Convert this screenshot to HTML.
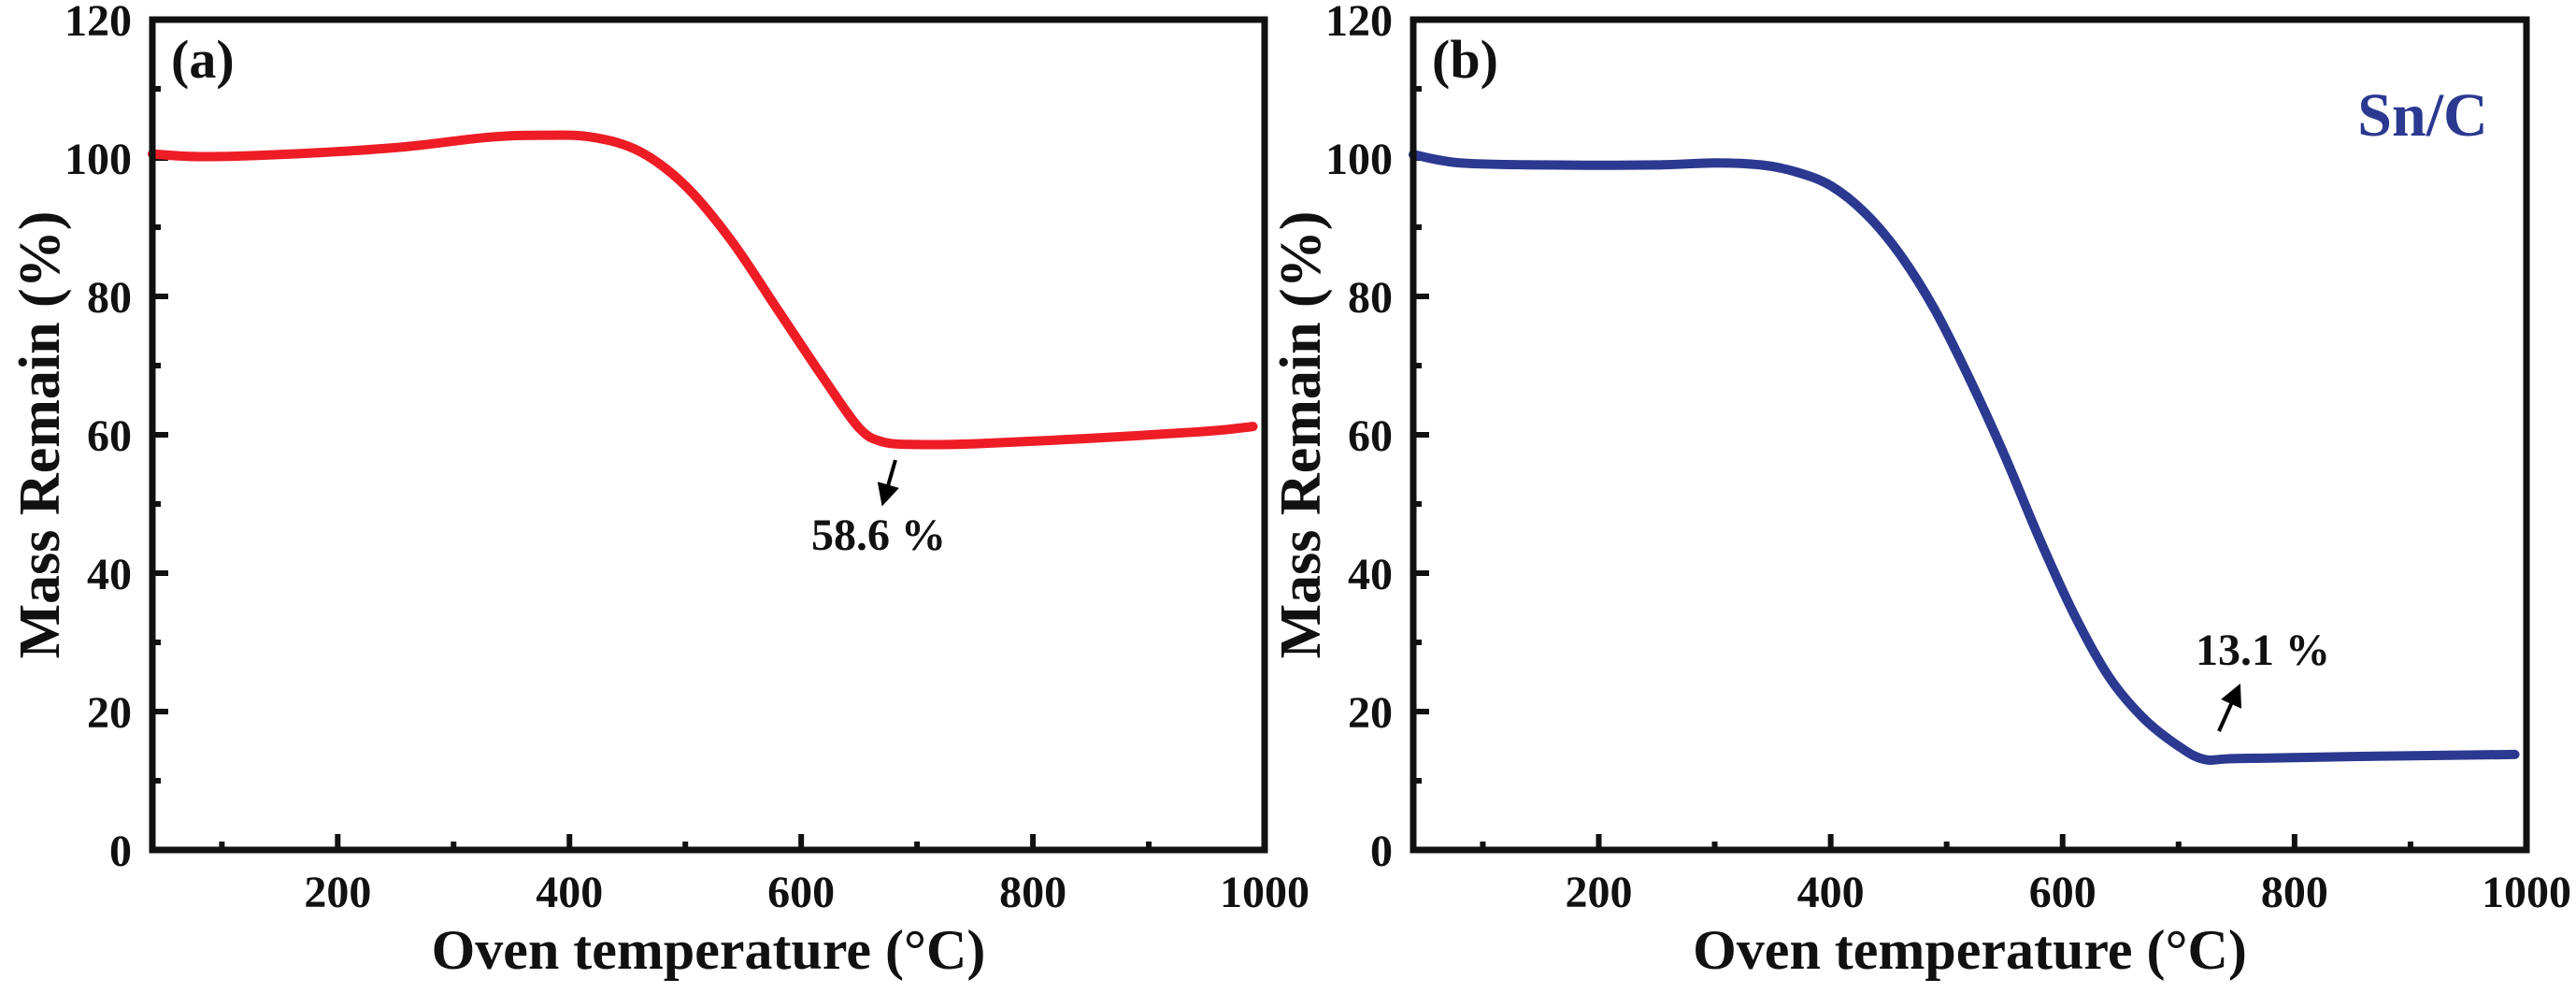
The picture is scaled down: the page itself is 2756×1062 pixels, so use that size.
<!DOCTYPE html>
<html><head><meta charset="utf-8"><style>
html,body{margin:0;padding:0;background:#fff;}
svg{display:block;font-family:"Liberation Serif",serif;font-weight:bold;}
</style></head><body>
<svg id="fig" width="2756" height="1062" viewBox="0 0 2756 1062">
<defs><marker id="ah" markerWidth="6" markerHeight="6" refX="3" refY="3" orient="auto" markerUnits="strokeWidth"><path d="M0,0 L6,3 L0,6 z" fill="#000"/></marker></defs>
</svg>
<script>
const xTicksMajor=[200,400,600,800,1000];
const yTicksMajor=[0,20,40,60,80,100,120];
const tempA=[40,80,150,250,330,380,420,460,500,540,580,620,650,670,700,750,850,950,990];
const massA=[100.6,100.2,100.5,101.5,103,103.3,103,101,96,88,78,68,61,59,58.6,58.7,59.5,60.5,61.2];
const tempB=[40,80,150,250,300,340,370,400,430,460,490,520,550,580,610,640,670,700,722,750,850,990];
const massB=[100.5,99.3,99,99,99.3,99,98,96,92,86,78,68,57,45,34,25,19,15,13.1,13.2,13.5,13.8];
const NS='http://www.w3.org/2000/svg';
const svg=document.getElementById('fig');
function mk(tag,attrs,parent){const e=document.createElementNS(NS,tag);for(const k in attrs)e.setAttribute(k,attrs[k]);(parent||svg).appendChild(e);return e;}
function smooth(pts){
  let d='M'+pts[0][0].toFixed(1)+','+pts[0][1].toFixed(1);
  for(let i=0;i<pts.length-1;i++){
    const p0=pts[Math.max(0,i-1)],p1=pts[i],p2=pts[i+1],p3=pts[Math.min(pts.length-1,i+2)];
    const c1=[p1[0]+(p2[0]-p0[0])/6,p1[1]+(p2[1]-p0[1])/6];
    const c2=[p2[0]-(p3[0]-p1[0])/6,p2[1]-(p3[1]-p1[1])/6];
    d+=' C'+c1[0].toFixed(1)+','+c1[1].toFixed(1)+' '+c2[0].toFixed(1)+','+c2[1].toFixed(1)+' '+p2[0].toFixed(1)+','+p2[1].toFixed(1);
  }
  return d;
}
function panel(L,R,T,B,temps,mass,color,tag,key){
  const g=mk('g',{});
  
  
  const xs=v=>L+(v-40)/(1000-40)*(R-L);
  const ys=v=>B-v/120*(B-T);
  for(let v=100;v<1000;v+=200){const t=mk('line',{x1:xs(v),x2:xs(v),y1:B,y2:B-9,stroke:'#111','stroke-width':6},g);}
  for(let v=10;v<120;v+=20){const t=mk('line',{x1:L,x2:L+9,y1:ys(v),y2:ys(v),stroke:'#111','stroke-width':6},g);}
  xTicksMajor.forEach(v=>{
    const t=mk('line',{x1:xs(v),x2:xs(v),y1:B,y2:B-17,stroke:'#111','stroke-width':6},g);
    
    
    const tx=mk('text',{x:xs(v),y:970,'text-anchor':'middle','font-size':48,fill:'#111'},g);tx.textContent=v;
    
    
  });
  yTicksMajor.forEach(v=>{
    const t=mk('line',{x1:L,x2:L+17,y1:ys(v),y2:ys(v),stroke:'#111','stroke-width':6},g);
    
    
    const tx=mk('text',{x:L-22,y:ys(v)+17,'text-anchor':'end','font-size':48,fill:'#111'},g);tx.textContent=v;
    
    
  });
  const pts=temps.map((t,i)=>[xs(t),ys(mass[i])]);
  const p=mk('path',{d:smooth(pts),fill:'none',stroke:color,'stroke-width':10,'stroke-linejoin':'round','stroke-linecap':'round'},g);
  
  
  const fr=mk('rect',{x:L,y:T,width:R-L,height:B-T,fill:'none',stroke:'#111','stroke-width':7},g);
  
  
  const lab=mk('text',{x:L+20,y:T+62,'font-size':58,fill:'#111'},g);lab.textContent=tag;
  
  
  const xt=mk('text',{x:(L+R)/2,y:1036,'text-anchor':'middle','font-size':60,fill:'#111'},g);xt.textContent='Oven temperature (°C)';
  
  
  const yt=mk('text',{x:0,y:0,'text-anchor':'middle','font-size':62,fill:'#111',transform:`translate(${L-100},${(T+B)/2}) rotate(-90)`},g);yt.textContent='Mass Remain (%)';
  
  
  return g;
}
panel(163,1353,21,909,tempA,massA,'#ee1c25','(a)','a');
panel(1512,2703,21,909,tempB,massB,'#2b3990','(b)','b');
let a1=mk('line',{x1:958,y1:492,x2:947,y2:530,stroke:'#000','stroke-width':4,'marker-end':'url(#ah)'});


let t1=mk('text',{x:940,y:588,'text-anchor':'middle','font-size':48,fill:'#111'});t1.textContent='58.6 %';


let a2=mk('line',{x1:2374,y1:782,x2:2392,y2:742,stroke:'#000','stroke-width':4,'marker-end':'url(#ah)'});


let t2=mk('text',{x:2421,y:711,'text-anchor':'middle','font-size':48,fill:'#111'});t2.textContent='13.1 %';


let sn=mk('text',{x:2592,y:145,'text-anchor':'middle','font-size':66,fill:'#2b3990'});sn.textContent='Sn/C';


</script>
</body></html>
